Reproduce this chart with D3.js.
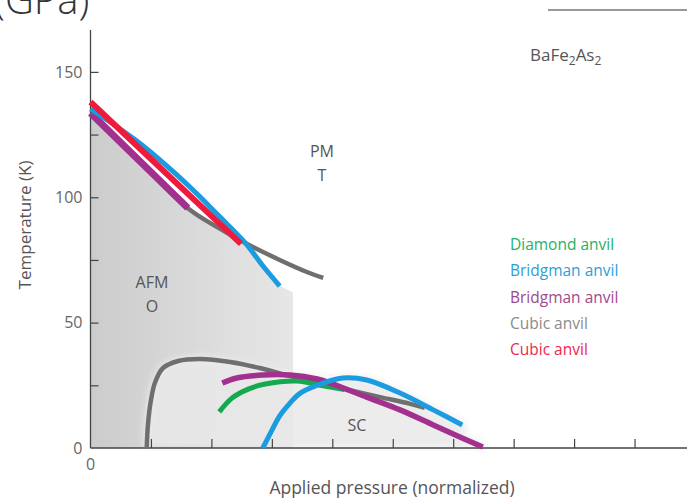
<!DOCTYPE html>
<html>
<head>
<meta charset="utf-8">
<script src="https://cdn.jsdelivr.net/npm/d3@7"></script>
<style>
  html, body { margin: 0; padding: 0; background: #fff; }
  svg { display: block; }
  text { font-family: "Open Sans", "Noto Sans", sans-serif; }
</style>
</head>
<body>
<svg id="chart" width="687" height="499"></svg>
<script>
// Phase diagram of BaFe2As2 under pressure: [pressure (normalized), T (K)]
const diamondSC   = [[2.13,14.4],[2.34,19.9],[2.61,23.5],[2.89,25.5],[3.42,26.7],[3.80,25.0],[4.20,23.3]];
const bridgmanBlueAFM = [[0,135.2],[0.74,122.9],[1.28,112.1],[1.73,102.1],[2.11,92.9],[2.56,81.8],[2.84,73.0],[3.13,64.6]];
const bridgmanBlueSC  = [[2.85,0],[2.97,5.6],[3.13,12.8],[3.30,17.9],[3.47,21.9],[3.85,25.9],[4.18,27.9],[4.57,27.1],[5.12,21.9],[5.67,15.2],[6.15,9.2]];
const bridgmanPurpleAFM = [[0,133.6],[1.61,95.7]];
const bridgmanPurpleSC  = [[2.18,25.9],[2.42,27.9],[2.85,29.1],[3.30,29.1],[3.75,27.5],[4.01,25.5],[4.57,20.3],[5.12,15.2],[5.67,9.2],[6.11,4.4],[6.49,0.4]];
const cubicGreyAFM = [[0,133.2],[0.98,110.1],[1.65,94.9],[2.06,88.6],[2.56,81.8],[3.13,75.0],[3.58,70.2],[3.85,67.8]];
const cubicGreySC  = [[0.93,0],[0.95,9.2],[1.00,19.1],[1.07,26.3],[1.20,31.9],[1.45,34.7],[1.81,35.5],[2.31,34.3],[2.80,31.9],[3.30,28.7],[3.80,25.9],[4.29,23.1],[4.79,20.3],[5.29,17.6],[5.53,16.0]];
const cubicRedAFM = [[0,138.0],[2.49,81.4]];

const legendLabels = ["Diamond anvil","Bridgman anvil","Bridgman anvil","Cubic anvil","Cubic anvil"];
const yTickValues = [25,50,75,100,125,150];
const yTickLabels = [0,50,100,150];
const xTickValues = [1,2,3,4,5,6,7,8,9];

const colors = { green:"#15a84e", blue:"#1b9be0", purple:"#a2308f", grey:"#6f6f6f", red:"#ee1b3c" };
const legendColors = ["#27b067","#2b9fd9","#a0488a","#8a8a8a","#ee2652"];

const svg = d3.select("#chart");
const x = d3.scaleLinear().domain([0, 10]).range([90.5, 695]);
const y = d3.scaleLinear().domain([0, 166.7]).range([448, 30]);

const defs = svg.append("defs");
const grad = defs.append("linearGradient").attr("id","afmFill")
  .attr("gradientUnits","userSpaceOnUse")
  .attr("x1", x(0)).attr("x2", x(3.35)).attr("y1",0).attr("y2",0);
grad.append("stop").attr("offset","0%").attr("stop-color","#cccccc");
grad.append("stop").attr("offset","50%").attr("stop-color","#d9d9d9");
grad.append("stop").attr("offset","100%").attr("stop-color","#e7e7e7");
defs.append("filter").attr("id","soft").attr("x","-10%").attr("y","-30%").attr("width","120%").attr("height","160%")
  .append("feGaussianBlur").attr("stdDeviation", 3);

// Linear interpolation along a series
function interp(series, v) {
  if (v < series[0][0] || v > series[series.length-1][0]) return null;
  for (let i = 1; i < series.length; i++) {
    if (v <= series[i][0]) {
      const [x0,y0] = series[i-1], [x1,y1] = series[i];
      return x1 === x0 ? y1 : y0 + (y1-y0)*(v-x0)/(x1-x0);
    }
  }
  return series[series.length-1][1];
}

// AFM region: under the lowest transition line
const afmEdge = [];
const afmSeries = [bridgmanPurpleAFM, cubicGreyAFM, bridgmanBlueAFM];
const afmEnd = bridgmanBlueAFM[bridgmanBlueAFM.length-1][0];
for (let v = 0; v <= afmEnd + 1e-9; v += 0.02) {
  const vals = afmSeries.map(s => interp(s, v)).filter(t => t !== null);
  afmEdge.push([v, d3.min(vals)]);
}
svg.append("path")
  .datum([[0,0], ...afmEdge, [3.35, 62], [3.35, 0]])
  .attr("d", d3.line().x(d => x(d[0])).y(d => y(d[1])))
  .attr("fill","url(#afmFill)");

// SC dome: envelope of all superconducting curves
const scSeries = [cubicGreySC, bridgmanPurpleSC, bridgmanBlueSC, diamondSC];
const domeStart = cubicGreySC[0][0], domeEnd = bridgmanPurpleSC[bridgmanPurpleSC.length-1][0];
const dome = [];
for (let v = domeStart; v <= domeEnd + 1e-9; v += 0.02) {
  const vals = scSeries.map(s => interp(s, v)).filter(t => t !== null);
  dome.push([v, vals.length ? d3.max(vals) : 0]);
}
svg.append("path")
  .datum([...dome, [domeEnd, 0]])
  .attr("d", d3.line().x(d => x(d[0])).y(d => y(d[1])))
  .attr("fill","#e9e9e9").attr("stroke","#ededed").attr("stroke-width",8)
  .attr("stroke-linejoin","round").attr("filter","url(#soft)").attr("opacity",0.85);

// Axes
const gx = svg.append("g").attr("transform", `translate(0,${y(0)})`)
  .call(d3.axisBottom(x).tickValues(xTickValues).tickSize(-9).tickFormat(""));
gx.select(".domain").attr("d", `M${x(0)},0H687`);
const gy = svg.append("g").attr("transform", `translate(${x(0)},0)`)
  .call(d3.axisLeft(y).tickValues(yTickValues).tickSize(-8).tickFormat(""));
gy.select(".domain").attr("d", `M0,${y(166.7)}V${y(0)}`);
svg.selectAll(".domain").attr("stroke","#444").attr("stroke-width",1.3);
svg.selectAll(".tick line").attr("stroke","#444").attr("stroke-width",1.2);

svg.append("g").selectAll("text").data(yTickLabels).join("text")
  .attr("x", x(0) - 8).attr("y", d => y(d)).attr("dy","0.36em")
  .attr("text-anchor","end").attr("font-size",16).attr("fill","#666").text(d => d);
svg.append("text").attr("x", x(0)).attr("y", 470).attr("text-anchor","middle")
  .attr("font-size",16).attr("fill","#666").text("0");

// Transition curves
const line = d3.line().x(d => x(d[0])).y(d => y(d[1])).curve(d3.curveCatmullRom.alpha(0.5));
const curves = [
  [cubicGreyAFM, colors.grey, 4.5],
  [bridgmanPurpleAFM, colors.purple, 7],
  [bridgmanBlueAFM, colors.blue, 5],
  [cubicGreySC, colors.grey, 4.5],
  [diamondSC, colors.green, 5],
  [bridgmanPurpleSC, colors.purple, 5.5],
  [bridgmanBlueSC, colors.blue, 5],
  [cubicRedAFM, colors.red, 6]
];
svg.append("g").selectAll("path").data(curves).join("path")
  .attr("d", d => line(d[0])).attr("fill","none")
  .attr("stroke", d => d[1]).attr("stroke-width", d => d[2]);

// Legend
svg.append("g").selectAll("text").data(legendLabels).join("text")
  .attr("x", 510).attr("y", (d,i) => 250 + i*26.3)
  .attr("font-size",15.5).attr("fill",(d,i) => legendColors[i]).text(d => d);

// Phase labels
const phaseLabel = (t, px, py, size) => svg.append("text").attr("x", px).attr("y", py)
  .attr("text-anchor","middle").attr("font-size", size).attr("fill","#555").text(t);
phaseLabel("PM", 322, 157, 16);
phaseLabel("T", 322, 181, 16);
phaseLabel("AFM", 152, 288, 16);
phaseLabel("O", 152, 312, 16);
phaseLabel("SC", 357, 431, 16);

// Compound name
const comp = svg.append("text").attr("x", 530).attr("y", 61).attr("font-size",17).attr("fill","#555");
comp.append("tspan").text("BaFe");
comp.append("tspan").attr("font-size",12).attr("dy",4).text("2");
comp.append("tspan").attr("dy",-4).text("As");
comp.append("tspan").attr("font-size",12).attr("dy",4).text("2");

// Axis titles
svg.append("text").attr("transform","translate(31,225) rotate(-90)")
  .attr("text-anchor","middle").attr("font-size",17).attr("fill","#555").text("Temperature (K)");
svg.append("text").attr("x", 392).attr("y", 494).attr("text-anchor","middle")
  .attr("font-size",17.5).attr("fill","#555").text("Applied pressure (normalized)");

// Header fragments at the top edge
svg.append("text").attr("x", -6).attr("y", 14).attr("font-size",40).attr("font-weight",300)
  .attr("fill","#333").text("(GPa)");
svg.append("line").attr("x1",548).attr("x2",687).attr("y1",10).attr("y2",10)
  .attr("stroke","#777").attr("stroke-width",1.5);
</script>
</body>
</html>
